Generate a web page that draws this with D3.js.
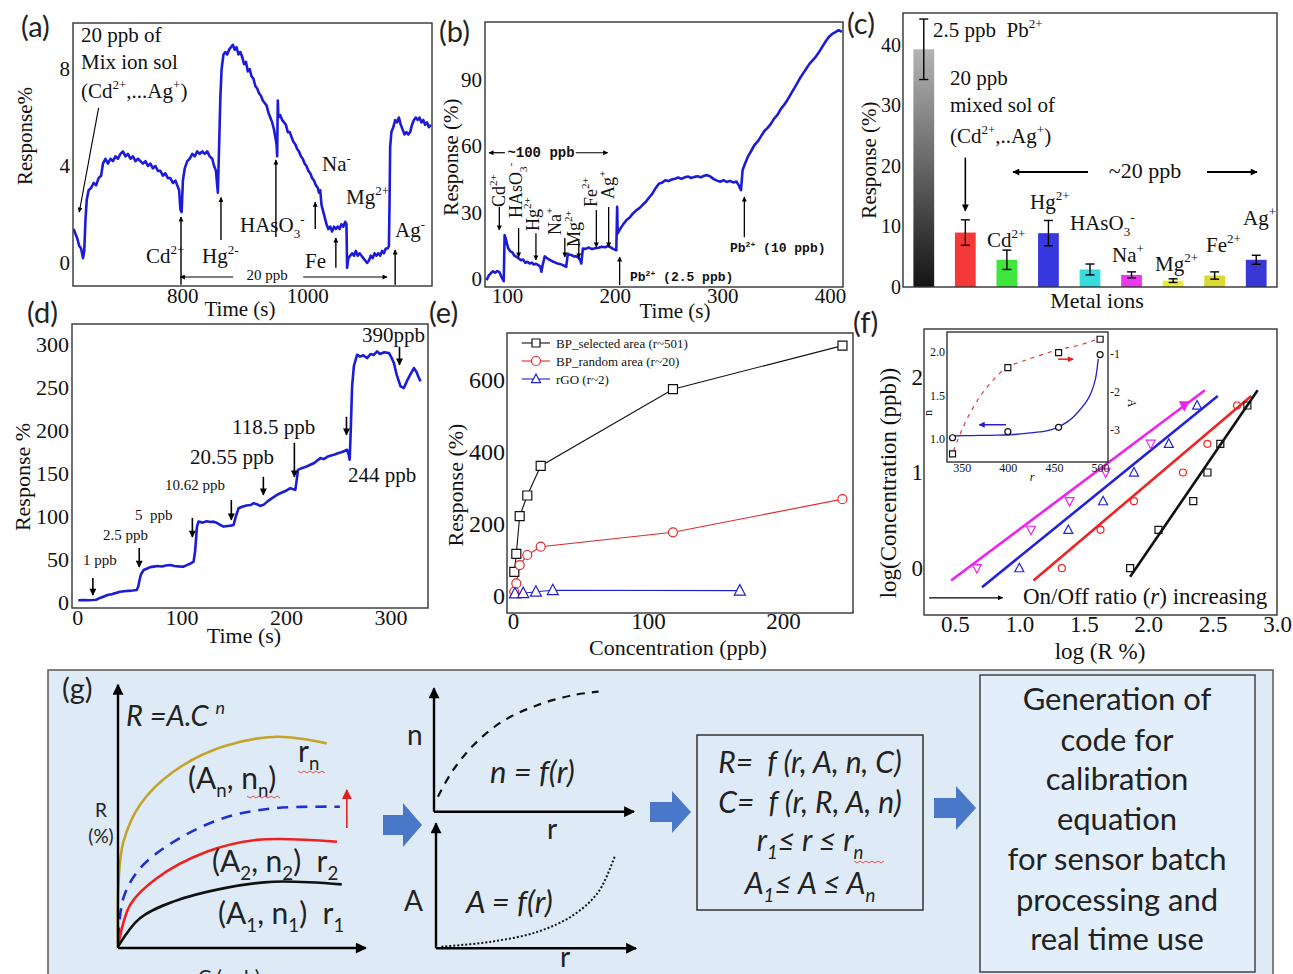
<!DOCTYPE html>
<html><head><meta charset="utf-8">
<script src="https://cdn.jsdelivr.net/npm/d3@7"></script>
<style>body{margin:0;background:#fff}svg{display:block}text{white-space:pre}</style>
</head><body>
<script>
// ---------------- DATA ----------------
// (a) response vs time (s), mixed ions
const traceA = [[626,1.4],[629,1.2],[632,1.0],[635,0.7],[638,0.6],[641,0.2],[643,0.5],[645,1.8],[647,2.6],[650,3.0],[654,3.1],[658,3.3],[662,3.2],[666,3.5],[670,3.6],[673,4.1],[677,4.3],[681,4.1],[685,4.3],[689,4.2],[693,4.4],[697,4.3],[701,4.5],[705,4.6],[709,4.4],[713,4.5],[717,4.3],[721,4.4],[725,4.2],[729,4.3],[733,4.2],[737,4.1],[741,4.2],[745,4.0],[749,4.1],[753,3.9],[757,4.0],[761,3.8],[765,3.8],[769,3.6],[773,3.7],[777,3.5],[781,3.5],[785,3.3],[789,3.4],[792,3.2],[795,3.0],[797,2.2],[799,2.1],[801,3.4],[804,3.9],[808,4.2],[812,4.3],[816,4.5],[820,4.4],[824,4.6],[828,4.5],[832,4.6],[836,4.5],[840,4.6],[844,4.4],[848,4.3],[851,4.0],[854,3.8],[856,3.2],[857,2.9],[859,4.8],[861,6.8],[863,8.0],[866,8.6],[869,8.7],[872,8.6],[875,8.8],[878,8.9],[881,9.0],[884,8.8],[887,8.9],[890,8.6],[893,8.7],[896,8.5],[899,8.2],[902,8.3],[905,7.9],[908,8.0],[911,7.7],[914,7.6],[917,7.3],[920,7.2],[923,7.0],[926,6.9],[929,6.7],[932,6.6],[935,6.5],[938,6.2],[941,6.0],[944,5.8],[947,5.5],[949,5.2],[951,4.9],[952,4.4],[953,6.7],[954,6.0],[957,6.1],[960,5.9],[963,5.8],[966,5.7],[969,5.4],[972,5.4],[975,5.2],[978,5.0],[981,4.9],[984,4.7],[987,4.6],[990,4.4],[993,4.3],[996,4.1],[999,4.0],[1002,3.8],[1005,3.7],[1008,3.5],[1011,3.4],[1014,3.2],[1017,3.1],[1019,2.9],[1021,3.0],[1023,2.4],[1025,2.2],[1028,1.9],[1031,1.6],[1034,1.4],[1037,1.5],[1040,1.3],[1043,1.5],[1046,1.4],[1049,1.5],[1052,1.4],[1055,1.6],[1058,1.5],[1061,1.7],[1063,1.6],[1064,-0.2],[1066,0.2],[1069,0.3],[1072,0.4],[1075,0.3],[1078,0.5],[1081,0.3],[1084,0.4],[1087,0.3],[1090,0.2],[1093,0.1],[1096,0.0],[1099,0.1],[1102,0.3],[1105,0.2],[1108,0.4],[1111,0.3],[1114,0.4],[1117,0.3],[1120,0.5],[1123,0.4],[1126,0.6],[1129,0.6],[1131,0.7],[1132,2.5],[1133,4.8],[1135,5.4],[1138,5.6],[1141,5.9],[1144,5.8],[1147,6.0],[1150,5.7],[1153,5.5],[1156,5.3],[1159,5.4],[1162,5.3],[1165,5.4],[1168,5.7],[1171,5.9],[1174,6.0],[1177,5.9],[1180,6.0],[1183,5.8],[1186,5.9],[1189,5.7],[1192,5.8],[1195,5.6],[1198,5.7]];
const ticksAx = [800,1000], ticksAy = [0,4,8];

// (b) response vs time, interferents then Pb2+
const traceB = [[81,-0.5],[83,1.5],[85,2.6],[87,3.5],[89,2.8],[91,3.6],[93,3.1],[95,0.8],[97,-1.0],[97.8,19.8],[99,18],[101,14],[103,12.5],[105,12],[107,10.5],[109,10],[111,9.3],[113,8.5],[115,8.8],[117,7.3],[119,7.8],[121,7.0],[123,7.4],[125,6.6],[127,6.9],[129,6.3],[131,5.5],[132,3.3],[133,6],[135,10.2],[137,9.5],[139,8.8],[141,8.3],[143,7.8],[145,7.4],[147,7.0],[149,6.8],[151,6.5],[153,6.0],[155,5.5],[156.5,11.4],[158,11],[160,10.8],[162,10.2],[164,10.3],[166,9.8],[168,8.5],[169,7],[170.5,13.8],[173,13.6],[176,14.2],[179,13.5],[182,13.9],[185,14.1],[188,14.6],[191,14.3],[194,15],[197,14.1],[199,13.5],[201.5,13],[202.3,32.6],[202.8,20.6],[205,22.5],[208,24.8],[211,26.6],[214,27.8],[217,29.6],[220,31],[223,32],[226,33.5],[229,34.9],[232,36.8],[235,38.5],[238,41],[241,43],[244,43.5],[247,44.6],[250,44.2],[253,44.9],[256,45.3],[259,45.8],[262,45.2],[265,45.9],[268,46.3],[271,45.6],[274,46.1],[277,46.4],[280,45.9],[283,46.6],[286,46.9],[289,46.2],[292,45.1],[295,44.4],[298,43.9],[301,44.6],[304,43.8],[307,44.3],[310,43.6],[313,44],[315,42.5],[317.3,40.1],[318.8,49.2],[321,52],[324,55.5],[327,58],[330,60.6],[333,62.2],[336,64.5],[339,66.8],[342,68.2],[345,70],[348,72.4],[351,74],[354,76.5],[357,78.4],[360,80.5],[363,83],[366,85.5],[369,88],[372,90.6],[375,92.8],[378,95],[381,97.2],[384,98.8],[387,100.5],[390,102.6],[393,105],[396,107.3],[399,109.3],[402,110.6],[405,111.4],[408,112.3],[411,111.5]];
const ticksBx = [100,200,300,400], ticksBy = [0,30,60,90];

// (c) selectivity bars
const ionNames = ["Pb","Mix","Cd","Hg","HAsO3","Na","Mg","Fe","Ag"];
const ionResp = [39.3,9.0,4.5,8.9,2.9,2.0,1.05,1.9,4.5];
const ionErr  = [5.0,2.1,1.6,2.1,0.9,0.5,0.3,0.6,0.75];
const ticksCy = [0,10,20,30,40];

// (d) stepwise Pb2+ additions
const traceD = [[1,2],[6,2.3],[11,2.1],[15,2.3],[18,2.6],[21,4.3],[25,6.2],[29,8.2],[33,9.0],[37,10.5],[41,12],[45,12.5],[49,13.0],[53,13.4],[57,14],[58.5,18],[59.7,25.7],[61,32],[63.6,37.3],[67,39],[70,40.6],[73.2,41.2],[77,42],[81,41.4],[85,42.5],[89.2,43.2],[93,42],[97,41.5],[101.9,41.2],[105,43],[108,44.5],[111.5,47],[113,60],[114.7,87.9],[116.2,93.7],[120,92.5],[124,94],[128,93.2],[130.6,93.7],[134,92],[137,90],[140.2,87.9],[144,88.6],[147,89],[149.8,89.8],[152,100],[154.6,109.3],[158,111],[162,112.5],[166,113],[169,115.1],[172,114],[175,112],[178.5,113.2],[182,117],[186,120.5],[191.4,124.9],[195,127],[199,129],[204.1,132.7],[207,131.5],[208.9,130.7],[210,140],[211.5,154],[215,156],[219,157.5],[223.3,159.9],[227,162],[230,165],[232.9,167.7],[236,166.5],[240,169.5],[245.7,171.5],[249,173],[253,174.5],[256,176],[258.5,177.4],[260,172],[261,165.7],[262,200],[263.3,251.3],[265,275],[268.1,288.2],[271,286],[274,287.5],[277.7,284.3],[281,289],[284,288],[287.3,292.1],[290,289],[294,291],[298.5,290.2],[301,285],[303.3,278.5],[306,265],[309.7,251.3],[312.9,249.4],[316,258],[319,265],[322.5,272.7],[325,268],[327,262],[328.9,257.1]];
const ticksDx = [0,100,200,300], ticksDy = [0,50,100,150,200,250,300];

// (e) calibration curves
const concBP = [1,2.5,5,10.62,20.55,118.5,244];
const respBPsel = [67,117,222,279,361,574,695];
const respBPrand = [12,35,86,114,137,177,269];
const concRGO = [1.5,7.6,17,29.5,168];
const respRGO = [7,8,12,16,15];
const legendE = ["BP_selected area (r~501)","BP_random area (r~20)","rGO (r~2)"];
const ticksEx = [0,100,200], ticksEy = [0,200,400,600];

// (f) log-log fits
const logConcF = [0,0.4,0.7,1.0,1.3,1.7];
const logRMag = [0.67,1.09,1.39,1.67,2.02,2.28];
const logRBlue = [1.0,1.38,1.65,1.89,2.16,2.38];
const logRRed = [1.33,1.63,1.89,2.27,2.46,2.69];
const logRBlack = [1.86,2.08,2.35,2.46,2.56,2.77];
const fitMag = [[0.47,-0.13],[2.44,1.86]];
const fitBlue = [[0.71,-0.2],[2.54,1.8]];
const fitRed = [[1.11,-0.13],[2.80,1.8]];
const fitBlack = [[1.86,-0.09],[2.85,1.86]];
const ticksFx = [0.5,1.0,1.5,2.0,2.5,3.0], ticksFy = [0,1,2];
// (f) inset: n and A vs on/off ratio r
const insetR = [340,400,455,500];
const insetN = [1.01,1.08,1.13,1.97];
const insetA = [-3.63,-1.37,-0.98,-0.63];
const nFit = [[339,1.03],[360,1.035],[388,1.04],[410,1.05],[428,1.07],[442,1.09],[454,1.13],[464,1.19],[471,1.25],[478,1.33],[486,1.44],[491,1.55],[495,1.69],[498,1.92]];
const aFit = [[341,-3.55],[352,-2.9],[362,-2.43],[372,-2.05],[381,-1.78],[390,-1.55],[398,-1.37],[410,-1.25],[420,-1.17],[435,-1.05],[453,-0.91],[465,-0.85],[478,-0.78],[497,-0.63]];
const ticksIx = [350,400,450,500], ticksIn = [1.0,1.5,2.0], ticksIa = [-3,-2,-1];

// (g) schematic curves (relative units 0-100)
const schemGold = [[0,0.5],[0.2,25],[2,40],[8.2,54],[20.7,66.5],[39.4,76],[59.4,79.7],[78.2,77.2]];
const schemBlue = [[0.1,3.7],[2,18.8],[8.2,30],[20.7,40],[39.4,49],[58.2,52.7],[83.1,53.3]];
const schemRed = [[0.1,1.1],[4.5,16.2],[14.5,26.3],[33.2,36.3],[52,40.8],[82,40.1]];
const schemBlack = [[0,0.5],[8.2,11.2],[20.7,17.5],[39.4,22.5],[58.2,25],[83.8,24]];
const schemN = [[1.95,12.1],[9,32.3],[19.8,53.9],[34,72.8],[52,86.3],[69.8,94.3],[82.3,97]];
const schemA = [[2.7,1.3],[27.7,5.3],[51,13.3],[68.8,26.7],[81.3,45.3],[89.3,73.3]];
const stepText = ["Generation of","code for","calibration","equation","for sensor batch","processing and","real time use"];

// ---------------- STYLE / HELPERS ----------------
const SERIF = '"Liberation Serif","Times New Roman",serif';
const SANS = 'Lato,"Open Sans",sans-serif';
const MONO = '"Liberation Mono","Courier New",monospace';
const BLUE = "#1c1cd6";
const svg = d3.select("body").append("svg").attr("width",1293).attr("height",974);
const defs = svg.append("defs");
function mk(id,color,w,h){defs.append("marker").attr("id",id).attr("viewBox","0 0 10 10").attr("refX",9).attr("refY",5)
  .attr("markerUnits","userSpaceOnUse").attr("markerWidth",w).attr("markerHeight",h).attr("orient","auto-start-reverse")
  .append("path").attr("d","M0,0L10,5L0,10Z").attr("fill",color);}
mk("ah","#000",8,7); mk("ahS","#000",6,5); mk("ahL","#000",12,10); mk("ahR","#e02020",10,10);
mk("ahB","#1c1cd6",7,6); mk("ahRi","#e02020",7,6); mk("ahG","#000",12,11);
const gr = defs.append("linearGradient").attr("id","grayg").attr("x1",0).attr("y1",0).attr("x2",0).attr("y2",1);
gr.append("stop").attr("offset",0).attr("stop-color","#b4b4b4");
gr.append("stop").attr("offset",1).attr("stop-color","#141414");

function frame(x0,y0,x1,y1,fill,stroke,sw){return svg.append("rect").attr("x",x0).attr("y",y0).attr("width",x1-x0).attr("height",y1-y0)
  .attr("fill",fill||"none").attr("stroke",stroke||"#333").attr("stroke-width",sw||1.4);}
function clip(id,x0,y0,x1,y1){defs.append("clipPath").attr("id",id).append("rect").attr("x",x0).attr("y",y0).attr("width",x1-x0).attr("height",y1-y0);return `url(#${id})`;}
function styleAx(g,size,fam){g.select(".domain").remove();g.attr("font-family",fam||SERIF).attr("font-size",size);g.selectAll("text").attr("fill","#111");return g;}
function axisL(s,vals,x,size,pad,fmt){return styleAx(svg.append("g").attr("transform",`translate(${x},0)`).call(d3.axisLeft(s).tickValues(vals).tickSize(0).tickPadding(pad).tickFormat(fmt||(d=>d))),size);}
function axisR(s,vals,x,size,pad,fmt){return styleAx(svg.append("g").attr("transform",`translate(${x},0)`).call(d3.axisRight(s).tickValues(vals).tickSize(0).tickPadding(pad).tickFormat(fmt||(d=>d))),size);}
function axisB(s,vals,y,size,pad,fmt){return styleAx(svg.append("g").attr("transform",`translate(0,${y})`).call(d3.axisBottom(s).tickValues(vals).tickSize(0).tickPadding(pad).tickFormat(fmt||(d=>d))),size);}
function rich(x,y,parts,o={}){
  const fs=o.size||21;
  const t=(o.g||svg).append("text").attr("x",x).attr("y",y).attr("font-size",fs).attr("font-family",o.family||SERIF)
    .attr("text-anchor",o.anchor||"start").attr("fill",o.color||"#111");
  if(o.italic)t.attr("font-style","italic"); if(o.weight)t.attr("font-weight",o.weight);
  if(o.rotate)t.attr("transform",`rotate(${o.rotate},${x},${y})`);
  let cur=0;
  (typeof parts==="string"?[parts]:parts).forEach(p=>{
    const txt=Array.isArray(p)?p[0]:p,k=Array.isArray(p)?p[1]:"";
    const off=k==="sup"?-0.42*fs:k==="sub"?0.28*fs:0;
    const s=t.append("tspan").text(txt);
    if(off!==cur)s.attr("dy",off-cur); cur=off;
    if(k==="sup"||k==="sub")s.attr("font-size",fs*0.62);
    if(k==="i")s.attr("font-style","italic");
    if(k==="n")s.attr("font-style","normal");
  });
  return t;
}
function line(x1,y1,x2,y2,o={}){const l=svg.append("line").attr("x1",x1).attr("y1",y1).attr("x2",x2).attr("y2",y2)
  .attr("stroke",o.color||"#000").attr("stroke-width",o.w||1.3);
  if(o.head)l.attr("marker-end",`url(#${o.head})`); if(o.tail)l.attr("marker-start",`url(#${o.tail})`);
  if(o.dash)l.attr("stroke-dasharray",o.dash); return l;}
function mark(type,x,y,s,color,fill){
  if(type==="ci"){svg.append("circle").attr("cx",x).attr("cy",y).attr("r",s/2).attr("fill",fill||"none").attr("stroke",color).attr("stroke-width",1.2);return;}
  let d;
  if(type==="sq")d=`M${x-s/2},${y-s/2}h${s}v${s}h${-s}Z`;
  else if(type==="tu")d=`M${x},${y-s*0.55}L${x+s/2},${y+s*0.4}L${x-s/2},${y+s*0.4}Z`;
  else d=`M${x},${y+s*0.55}L${x+s/2},${y-s*0.4}L${x-s/2},${y-s*0.4}Z`;
  svg.append("path").attr("d",d).attr("fill",fill||"none").attr("stroke",color).attr("stroke-width",1.2);
}
function letter(txt,x,y){svg.append("text").attr("x",x).attr("y",y).attr("font-family",SANS).attr("font-size",29).attr("fill","#222").text(txt);}
function trace(data,sx,sy,cp,color,w){svg.append("path").datum(data).attr("clip-path",cp).attr("fill","none").attr("stroke",color).attr("stroke-width",w)
  .attr("stroke-linejoin","round").attr("d",d3.line().x(d=>sx(d[0])).y(d=>sy(d[1])));}

// ---------------- (a) ----------------
{
  const x=d3.scaleLinear([625,1200],[73,432]), y=d3.scaleLinear([-0.95,9.9],[286,23]);
  frame(73,23,432,286);
  trace(traceA,x,y,clip("ca",73,23,432,286),BLUE,2.6);
  axisL(y,ticksAy,73,21,3); axisB(x,ticksAx,286,21,2);
  letter("(a)",21,37);
  rich(32,136,"Response%",{rotate:-90,anchor:"middle",size:21});
  rich(240,316,"Time (s)",{anchor:"middle",size:21});
  rich(81,42,"20 ppb of"); rich(81,69,"Mix ion sol");
  rich(81,98,["(Cd",["2+","sup"],",...Ag",["+","sup"],")"]);
  line(x(666),y(6.4),x(635),y(2.1),{head:"ahS",w:1.1});
  const up=(t,v0,v1)=>line(x(t),y(v0),x(t),y(v1),{head:"ahS",w:1.4});
  up(798,-0.9,1.9); up(862,0.95,2.7); up(950,1.07,4.25); up(1013,1.4,2.5); up(1046,-0.2,1.03); up(1141,-0.9,0.54);
  rich(146,263,["Cd",["2+","sup"]]); rich(202,263,["Hg",["2-","sup"]]);
  rich(240,232,["HAsO",["3","sub"],["-","sup"]]); rich(322,171,["Na",["-","sup"]]);
  rich(346,204,["Mg",["2+","sup"]]); rich(305,268,"Fe"); rich(395,237,["Ag",["-","sup"]]);
  line(x(881.6),y(-0.58),x(797),y(-0.58),{head:"ahS",w:1.1}); line(x(993.6),y(-0.58),x(1128),y(-0.58),{head:"ahS",w:1.1});
  rich(267,280,"20 ppb",{anchor:"middle",size:15});
}
// ---------------- (b) ----------------
{
  const x=d3.scaleLinear([79.6,412],[485,843]), y=d3.scaleLinear([-3.6,116],[287,22]);
  frame(485,22,843,287);
  trace(traceB,x,y,clip("cb",485,22,843,287),BLUE,2.6);
  axisL(y,ticksBy,485,21,3); axisB(x,ticksBx,287,21,1);
  letter("(b)",439,42);
  rich(458,157,"Response (%)",{rotate:-90,anchor:"middle",size:21});
  rich(675,318,"Time (s)",{anchor:"middle",size:21});
  const dn=(t,v0,v1)=>line(x(t),y(v0),x(t),y(v1),{head:"ahS",w:1.3});
  dn(92.9,32.5,22.1); dn(110.8,23,9.9); dn(126.9,20.7,8.6); dn(153.7,18.5,9.9); dn(166.7,17.6,9.5); dn(183,31.1,14.4); dn(194.4,32.5,14.4);
  const rl=(px,py,parts)=>rich(px,py,parts,{rotate:-90,size:18});
  rl(505,207,["Cd",["2+","sup"]]); rl(522,218,["HAsO",["3","sub"],["-","sup"]]); rl(539,231,["Hg",["2+","sup"]]);
  rl(561,235,["Na",["+","sup"]]); rl(580,247,["Mg",["2+","sup"]]); rl(597,207,["Fe",["2+","sup"]]); rl(614,199,["Ag",["+","sup"]]);
  line(x(98.1),y(57),x(83.3),y(57),{head:"ahS",w:1.2}); line(x(163.9),y(57),x(193.5),y(57),{head:"ahS",w:1.2});
  rich(541,157,"~100 ppb",{anchor:"middle",size:14,family:MONO,weight:"bold"});
  line(x(204.6),y(-2.7),x(204.6),y(9.9),{head:"ahS",w:1.3}); line(x(320.4),y(18.9),x(320.4),y(37),{head:"ahS",w:1.3});
  rich(630,281,["Pb",["2+","sup"]," (2.5 ppb)"],{size:13,family:MONO,weight:"bold"});
  rich(730,252,["Pb",["2+","sup"]," (10 ppb)"],{size:13,family:MONO,weight:"bold"});
}
// ---------------- (c) ----------------
{
  const x=d3.scaleBand(ionNames,[903,1277]).paddingInner(0.5).paddingOuter(0.25), y=d3.scaleLinear([0,45.3],[287,13]);
  const cols=["url(#grayg)","#f53838","#3ee63e","#3838e0","#38dcdc","#ec38ec","#ecec38","#dada32","#3838d6"];
  svg.selectAll(".bar").data(ionNames).join("rect").attr("x",d=>x(d)).attr("width",x.bandwidth())
    .attr("y",(d,i)=>y(ionResp[i])).attr("height",(d,i)=>y(0)-y(ionResp[i])).attr("fill",(d,i)=>cols[i]);
  ionNames.forEach((d,i)=>{const cx=x(d)+x.bandwidth()/2;
    line(cx,y(ionResp[i]-ionErr[i]),cx,y(ionResp[i]+ionErr[i]),{w:1.4});
    line(cx-4.5,y(ionResp[i]+ionErr[i]),cx+4.5,y(ionResp[i]+ionErr[i]),{w:1.4});
    line(cx-4.5,y(ionResp[i]-ionErr[i]),cx+4.5,y(ionResp[i]-ionErr[i]),{w:1.4});});
  frame(903,13,1277,287);
  axisL(y,ticksCy,903,20,2);
  letter("(c)",847,34);
  rich(876,160,"Response (%)",{rotate:-90,anchor:"middle",size:21});
  rich(1097,308,"Metal ions",{anchor:"middle",size:22});
  rich(933,37,["2.5 ppb  Pb",["2+","sup"]]);
  rich(950,85,"20 ppb"); rich(950,112,"mixed sol of"); rich(950,143,["(Cd",["2+","sup"],",..Ag",["+","sup"],")"]);
  const mx=x("Mix")+x.bandwidth()/2;
  line(mx,y(21.4),mx,y(12.6),{head:"ah",w:1.6});
  rich(1145,178,"~20 ppb",{anchor:"middle",size:22});
  line(1088,172,1013,172,{head:"ah",w:1.8}); line(1207,172,1257,172,{head:"ah",w:1.8});
  rich(987,247,["Cd",["2+","sup"]]); rich(1030,209,["Hg",["2+","sup"]]);
  rich(1070,230,["HAsO",["3","sub"],["-","sup"]]); rich(1112,262,["Na",["+","sup"]]);
  rich(1155,271,["Mg",["2+","sup"]]); rich(1206,252,["Fe",["2+","sup"]]); rich(1243,225,["Ag",["+","sup"]]);
}
// ---------------- (d) ----------------
{
  const x=d3.scaleLinear([-5,336],[72,428]), y=d3.scaleLinear([-7,324],[608,324]);
  frame(72,324,428,608);
  trace(traceD,x,y,clip("cd",72,324,428,608),BLUE,2.6);
  axisL(y,ticksDy,72,22,3); axisB(x,ticksDx,608,22,1);
  letter("(d)",27,323);
  rich(30,477,"Response %",{rotate:-90,anchor:"middle",size:22});
  rich(244,643,"Time (s)",{anchor:"middle",size:22});
  const dn=(t,v0,v1)=>line(x(t),y(v0),x(t),y(v1),{head:"ah",w:1.6});
  dn(15,28,8.2); dn(59.4,63,40.8); dn(110.3,98,75.8); dn(147.6,119,95.7); dn(178.3,145.9,124.9); dn(208,185.5,145.9); dn(257.9,215.9,194.9); dn(308.7,297.5,276.5);
  rich(83,565,"1 ppb",{size:15}); rich(103,540,"2.5 ppb",{size:15}); rich(135,520,"5  ppb",{size:15}); rich(165,490,"10.62 ppb",{size:15});
  rich(190,464,"20.55 ppb"); rich(232,434,"118.5 ppb"); rich(348,482,"244 ppb"); rich(362,342,"390ppb");
}
// ---------------- (e) ----------------
{
  const x=d3.scaleLinear([-4.4,251.8],[507,853]), y=d3.scaleLinear([-47,730],[613,333]);
  frame(507,333,853,613);
  const ln=d3.line().x(d=>x(d[0])).y(d=>y(d[1]));
  const sel=concBP.map((c,i)=>[c,respBPsel[i]]), ran=concBP.map((c,i)=>[c,respBPrand[i]]), rgo=concRGO.map((c,i)=>[c,respRGO[i]]);
  svg.append("path").attr("d",ln(sel)).attr("fill","none").attr("stroke","#111").attr("stroke-width",1.1);
  svg.append("path").attr("d",ln(ran)).attr("fill","none").attr("stroke","#e02828").attr("stroke-width",1.1);
  svg.append("path").attr("d",ln(rgo)).attr("fill","none").attr("stroke","#2020c8").attr("stroke-width",1.1);
  sel.forEach(d=>mark("sq",x(d[0]),y(d[1]),9,"#111","#fff"));
  ran.forEach(d=>mark("ci",x(d[0]),y(d[1]),9,"#e02828","#fff"));
  rgo.forEach(d=>mark("tu",x(d[0]),y(d[1]),11,"#2020c8","#fff"));
  axisL(y,ticksEy,507,24,2); axisB(x,ticksEx,613,23,0);
  letter("(e)",429,323);
  rich(463,485,"Response (%)",{rotate:-90,anchor:"middle",size:22});
  rich(678,655,"Concentration (ppb)",{anchor:"middle",size:22});
  const lc=["#111","#e02828","#2020c8"], lt=["sq","ci","tu"], ly=[343,361,379];
  legendE.forEach((t,i)=>{line(521.7,ly[i],550,ly[i],{color:lc[i],w:1.1}); mark(lt[i],536,ly[i],lt[i]==="sq"?8:9,lc[i],"#fff");
    rich(556,ly[i]+4.5,t,{size:13});});
}
// ---------------- (f) ----------------
{
  const x=d3.scaleLinear([0.26,3.0],[924,1277]), y=d3.scaleLinear([-0.49,2.5],[615,329]);
  frame(924,329,1277,615);
  const fits=[[fitMag,"#ee22ee"],[fitBlue,"#2323d8"],[fitRed,"#ee2424"],[fitBlack,"#111"]];
  fits.forEach(([f,c])=>line(x(f[0][0]),y(f[0][1]),x(f[1][0]),y(f[1][1]),{color:c,w:2.6}));
  logConcF.forEach((v,i)=>{
    mark("td",x(logRMag[i]),y(v),9,"#ee22ee",i===5?"#ee22ee":"none");
    mark("tu",x(logRBlue[i]),y(v),9,"#2323d8");
    mark("ci",x(logRRed[i]),y(v),7,"#ee2424");
    mark("sq",x(logRBlack[i]),y(v),7,"#111");
  });
  axisL(y,ticksFy,924,23,1); axisB(x,ticksFx,615,23,1,d3.format(".1f"));
  letter("(f)",853,333);
  rich(896,483,"log(Concentration (ppb))",{rotate:-90,anchor:"middle",size:23});
  rich(1100,659,"log (R %)",{anchor:"middle",size:23});
  rich(1023,604,["On/Off ratio (",["r","i"],") increasing"],{size:23});
  line(x(0.30),y(-0.31),x(0.87),y(-0.31),{head:"ahS",w:1.3});
  // inset
  const ix=d3.scaleLinear([334,508.6],[947,1108]), iyn=d3.scaleLinear([0.73,2.23],[462,332]), iya=d3.scaleLinear([-3.84,-0.44],[462,332]);
  frame(947,332,1108,462,"#fff","#222",1.3);
  svg.append("path").attr("d",d3.line().x(d=>ix(d[0])).y(d=>iya(d[1])).curve(d3.curveCatmullRom)(aFit)).attr("fill","none").attr("stroke","#d83a3a").attr("stroke-width",1.2).attr("stroke-dasharray","4,5");
  svg.append("path").attr("d",d3.line().x(d=>ix(d[0])).y(d=>iyn(d[1])).curve(d3.curveCatmullRom)(nFit)).attr("fill","none").attr("stroke","#2222c8").attr("stroke-width",1.3);
  insetR.forEach((r,i)=>{mark("ci",ix(r),iyn(insetN[i]),6,"#111","#fff"); mark("sq",ix(r),iya(insetA[i]),6,"#111","#fff");});
  axisL(iyn,ticksIn,947,12,2,d3.format(".1f")); axisR(iya,ticksIa,1108,12,2); axisB(ix,ticksIx,462,12,1);
  line(ix(398),iyn(1.16),ix(369),iyn(1.16),{color:"#2222c8",w:1.5,head:"ahB"});
  line(ix(454.5),iya(-1.15),ix(470.8),iya(-1.15),{color:"#e02020",w:1.5,head:"ahRi"});
  rich(932,413,"n",{rotate:-90,anchor:"middle",size:12});
  rich(1128,403,"A",{rotate:90,anchor:"middle",size:12});
  rich(1032,481,"r",{anchor:"middle",size:12,italic:true});
}
// ---------------- (g) ----------------
{
  frame(48,670,1273,990,"#deebf7","#5a5a5a",1.5);
  letter("(g)",62,699);
  const gx=d3.scaleLinear([0,100],[118,385]), gy=d3.scaleLinear([0,100],[948,683]);
  const cl=d3.line().x(d=>gx(d[0])).y(d=>gy(d[1])).curve(d3.curveCatmullRom);
  svg.append("path").attr("d",cl(schemGold)).attr("fill","none").attr("stroke","#c3a32c").attr("stroke-width",2.6);
  svg.append("path").attr("d",cl(schemBlue)).attr("fill","none").attr("stroke","#1f2fd0").attr("stroke-width",2.6).attr("stroke-dasharray","11,8");
  svg.append("path").attr("d",cl(schemRed)).attr("fill","none").attr("stroke","#ee2020").attr("stroke-width",2.6);
  svg.append("path").attr("d",cl(schemBlack)).attr("fill","none").attr("stroke","#111").attr("stroke-width",2.6);
  line(gx(0),gy(0),gx(0),gy(99.3),{w:2.4,head:"ahG"}); line(gx(0),gy(0),gx(92.8),gy(0),{w:2.4,head:"ahG"});
  line(gx(85.7),gy(45.3),gx(85.7),gy(59.6),{color:"#e02020",w:1.6,head:"ahR"});
  const S={family:SANS,size:30,color:"#222"};
  rich(126,726,["R =A.C ",["n","sup"]],{...S,size:29,italic:true});
  rich(101,817,"R",{...S,size:19,anchor:"middle"}); rich(101,843,"(%)",{...S,size:19,anchor:"middle"});
  rich(188,789,["(A",["n","sub"],", n",["n","sub"],")"],S);
  rich(298,762,["r",["n","sub"]],S);
  rich(212,872,["(A",["2","sub"],", n",["2","sub"],")  r",["2","sub"]],S);
  rich(218,924,["(A",["1","sub"],", n",["1","sub"],")  r",["1","sub"]],S);
  rich(229,984,"C (ppb)",{...S,size:20,anchor:"middle"});
  // wavy underlines
  const wavy=(x0,x1,yy)=>{let d=`M${x0},${yy}`;for(let xx=x0,k=0;xx<x1;xx+=3,k++)d+=`L${xx+3},${yy+(k%2?0:2)}`;
    svg.append("path").attr("d",d).attr("fill","none").attr("stroke","#e04040").attr("stroke-width",0.9);};
  wavy(247,280,796); wavy(298,325,771);
  // n = f(r) and A = f(r)
  const nx=d3.scaleLinear([0,100],[434,634]), ny=d3.scaleLinear([0,100],[811.7,688]);
  svg.append("path").attr("d",d3.line().x(d=>nx(d[0])).y(d=>ny(d[1])).curve(d3.curveCatmullRom)(schemN)).attr("fill","none").attr("stroke","#111").attr("stroke-width",2.2).attr("stroke-dasharray","8,7");
  line(nx(0),ny(0),nx(0),ny(99.7),{w:2.4,head:"ahG"}); line(nx(0),ny(0),nx(100),ny(0),{w:2.4,head:"ahG"});
  const axx=d3.scaleLinear([0,100],[436,636]), axy=d3.scaleLinear([0,100],[948.3,823.3]);
  svg.append("path").attr("d",d3.line().x(d=>axx(d[0])).y(d=>axy(d[1])).curve(d3.curveCatmullRom)(schemA)).attr("fill","none").attr("stroke","#111").attr("stroke-width",2).attr("stroke-dasharray","2,2");
  line(axx(0),axy(0),axx(0),axy(100),{w:2.4,head:"ahG"}); line(axx(0),axy(0),axx(100),axy(0),{w:2.4,head:"ahG"});
  rich(407,745,"n",{...S,size:28}); rich(404,911,"A",{...S,size:28});
  rich(490,783,"n = f(r)",{...S,size:31,italic:true}); rich(552,839,"r",{...S,size:28,anchor:"middle"});
  rich(466,913,"A = f(r)",{...S,size:31,italic:true}); rich(565,967,"r",{...S,size:28,anchor:"middle"});
  // block arrows
  const barrow=(x0,xn,x1,cy,hb,hh)=>svg.append("path").attr("d",`M${x0},${cy-hb}L${xn},${cy-hb}L${xn},${cy-hh}L${x1},${cy}L${xn},${cy+hh}L${xn},${cy+hb}L${x0},${cy+hb}Z`).attr("fill","#4a78c8");
  barrow(383,403,422,825,10,22); barrow(650,672,691,812,10,21); barrow(934,956,976,808,10,22);
  // equation box
  frame(697,735,923,910,"none","#333",1.5);
  const E={family:SANS,size:30,color:"#222",italic:true,anchor:"middle"};
  rich(810,773,"R=  f (r, A, n, C)",E);
  rich(810,813,"C=  f (r, R, A, n)",E);
  rich(810,851,["r",["1","sub"],"≤ r ≤ r",["n","sub"]],E);
  rich(810,894,["A",["1","sub"],"≤ A ≤ A",["n","sub"]],E);
  wavy(854,884,861);
  // final box
  frame(980,675,1255,972,"#e2eefa","#444",1.5);
  const by=[710,751,790,830,870,911,950];
  stepText.forEach((t,i)=>rich(1117,by[i],t,{family:SANS,size:31,color:"#222",anchor:"middle"}));
}
</script>
</body></html>
